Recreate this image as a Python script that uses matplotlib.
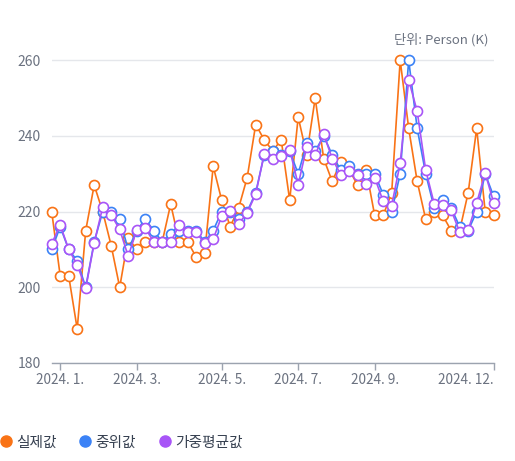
import matplotlib
matplotlib.use("Agg")
import matplotlib.pyplot as plt
from matplotlib.lines import Line2D

plt.rcParams['font.family'] = ['Noto Sans CJK KR', 'DejaVu Sans']

# ---- data ----
actual = [220, 203, 203, 189, 215, 227, 220, 211, 200, 213,
          210, 212, 212, 212, 222, 212, 212, 208, 209, 232,
          223, 216, 221, 229, 243, 239, 236, 239, 223, 245,
          235, 250, 234, 228, 233, 231, 227, 231, 219, 219,
          225, 260, 242, 228, 218, 220, 219, 215, 215, 225,
          242, 220, 219]
median = [210, 216, 210, 207, 200, 212, 220, 220, 218, 210,
          215, 218, 215, 212, 214, 215, 215, 215, 212, 215,
          220, 220, 218, 220, 225, 235, 236, 235, 236, 230,
          238, 236, 240, 235, 231, 232, 230, 230, 230, 224.5,
          220, 230, 260, 242, 230, 221, 223, 221, 216, 215,
          220, 230, 224]
wmean = [211.5, 216.5, 210, 206, 199.7, 211.7, 221.2, 219.1, 215.3, 208.2,
         215.1, 215.7, 212, 212, 212, 216.4, 214.5, 214.5, 211.6, 212.7,
         218.8, 220.2, 216.8, 219.7, 224.6, 235.2, 234, 234.6, 236.4, 227.1,
         237.1, 234.9, 240.5, 234, 229.8, 230.7, 229.6, 227.4, 229, 222.7,
         221.6, 232.8, 254.8, 246.5, 231, 222.1, 221.7, 220.4, 214.6, 215.1,
         222.3, 230.2, 222.3]
series_names = ['실제값', '중위값', '가중평균값']
series_colors = ['#f97316', '#3b82f6', '#a855f7']
tick_idx = [1, 10, 20, 29, 38, 52]
tick_labels = ['2024. 1.', '2024. 3.', '2024. 5.', '2024. 7.', '2024. 9.', '2024. 12.']
y_ticks = [180, 200, 220, 240, 260]
unit_text = '단위: Person (K)'

fig = plt.figure(figsize=(5.15, 4.61), dpi=100)
ax = fig.add_axes([0.1004, 0.2126, 0.8582, 0.6978])

x = list(range(len(actual)))
for vals, c, name in zip([actual, median, wmean], series_colors, series_names):
    ax.plot(x, vals, color=c, lw=1.2, marker='o', ms=7.2, mfc='white',
            mec=c, mew=1.2, clip_on=False, label=name, zorder=3)

ax.set_xlim(0, len(actual) - 1)
ax.set_ylim(180, 265)
ax.set_yticks(y_ticks)
ax.set_yticklabels([str(v) for v in y_ticks])
ax.grid(axis='y', color='#e5e7eb', lw=1)
ax.set_axisbelow(True)
for s in ['top', 'right', 'left']:
    ax.spines[s].set_visible(False)
ax.spines['bottom'].set_color('#9ca3af')
ax.spines['bottom'].set_linewidth(1)
ax.tick_params(axis='y', length=0, pad=8, labelsize=10, labelcolor='#6b7280')
ax.tick_params(axis='x', length=5, width=1, color='#9ca3af', pad=2,
               labelsize=9.8, labelcolor='#6b7280')
ax.set_xticks(tick_idx)
ax.set_xticklabels(tick_labels)
lbls = ax.get_xticklabels()
lbls[-1].set_ha('right')

fig.text(0.9476, 0.913, unit_text, ha='right', va='center',
         fontsize=9.5, color='#6b7280')

handles = [Line2D([], [], ls='', marker='o', ms=8, color=c) for c in series_colors]
fig.legend(handles, series_names, loc='center left', bbox_to_anchor=(-0.012, 0.04),
           ncol=3, frameon=False, fontsize=10.6, handlelength=0.8,
           handletextpad=0.3, columnspacing=1.55, borderaxespad=0,
           labelcolor='#374151')

fig.savefig('out.png', dpi=100)
